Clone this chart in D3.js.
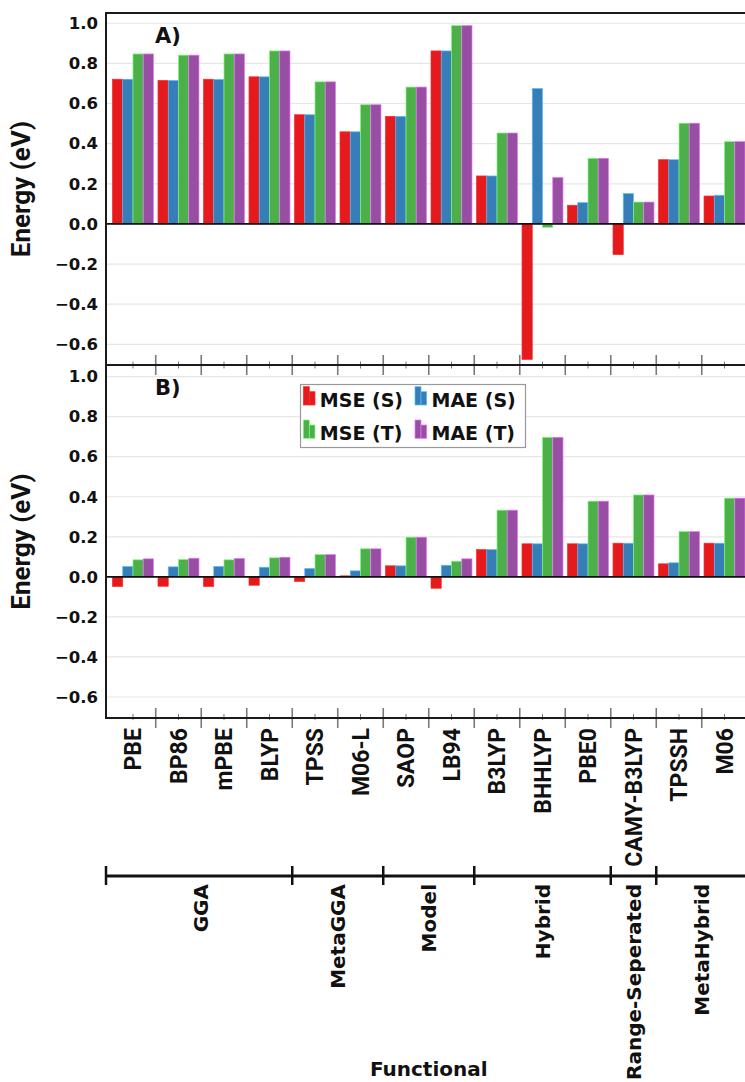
<!DOCTYPE html>
<html><head><meta charset="utf-8">
<script src="https://cdn.jsdelivr.net/npm/d3@7"></script>
<style>body{margin:0;background:#fff;overflow:hidden}</style>
</head><body>
<svg id="chart" width="745" height="1082"></svg>
<script>
// ---------- data ----------
const categories = ["PBE","BP86","mPBE","BLYP","TPSS","M06-L","SAOP","LB94","B3LYP","BHHLYP","PBE0","CAMY-B3LYP","TPSSH","M06"];
const seriesNames = ["MSE (S)","MAE (S)","MSE (T)","MAE (T)"];
const seriesColors = ["#e41a1c","#377eb8","#4daf4a","#984ea3"];
const groupNames = ["GGA","MetaGGA","Model","Hybrid","Range-Seperated","MetaHybrid"];
const groupSizes = [4,2,2,3,1,2];
const yTickValues = [-0.6,-0.4,-0.2,0.0,0.2,0.4,0.6,0.8,1.0];

// Panel A
const mseS_A = [0.721,0.715,0.721,0.733,0.544,0.459,0.536,0.862,0.239,-0.675,0.093,-0.153,0.320,0.139];
const maeS_A = [0.721,0.715,0.720,0.733,0.544,0.459,0.536,0.862,0.239,0.675,0.106,0.151,0.320,0.143];
const mseT_A = [0.847,0.841,0.847,0.862,0.708,0.594,0.682,0.988,0.453,-0.017,0.327,0.109,0.502,0.410];
const maeT_A = [0.847,0.841,0.847,0.862,0.708,0.594,0.682,0.988,0.453,0.231,0.327,0.109,0.502,0.410];
// Panel B
const mseS_B = [-0.048,-0.047,-0.048,-0.042,-0.023,0.005,0.055,-0.057,0.136,0.165,0.165,0.168,0.065,0.168];
const maeS_B = [0.052,0.050,0.052,0.048,0.042,0.030,0.055,0.058,0.136,0.165,0.165,0.168,0.070,0.168];
const mseT_B = [0.085,0.087,0.085,0.095,0.111,0.140,0.198,0.078,0.333,0.697,0.378,0.409,0.226,0.393];
const maeT_B = [0.090,0.093,0.092,0.098,0.111,0.140,0.198,0.090,0.333,0.697,0.378,0.409,0.226,0.393];

// ---------- layout ----------
const svg = d3.select("#chart");
svg.append("rect").attr("width",745).attr("height",1082).attr("fill","#fff");

const left = 106, right = 751.5;
const x = d3.scaleBand().domain(categories).range([left, right]).paddingInner(0).paddingOuter(0.093);
const xs = d3.scaleBand().domain(seriesNames).range([0, x.bandwidth()]).paddingInner(0).paddingOuter(0.22);

const panels = [
  {label:"A)", top:13, bottom:365, domain:[-0.703,1.051], data:[mseS_A,maeS_A,mseT_A,maeT_A]},
  {label:"B)", top:365, bottom:718, domain:[-0.705,1.058], data:[mseS_B,maeS_B,mseT_B,maeT_B]}
];

const tickGray = "#7a7a7a";
const fontMain = "'DejaVu Sans', sans-serif";

panels.forEach((p, pi) => {
  const y = d3.scaleLinear().domain(p.domain).range([p.bottom, p.top]);
  p.y = y;
  const g = svg.append("g");

  // grid
  g.selectAll("line.grid").data(yTickValues).join("line")
    .attr("x1", left).attr("x2", right)
    .attr("y1", d => y(d)).attr("y2", d => y(d))
    .attr("stroke", "#e6e6e6").attr("stroke-width", 1.2);

  // bars
  seriesNames.forEach((s, si) => {
    const vals = p.data[si];
    g.selectAll(null).data(categories.map((c,i)=>({c, v: vals[i]}))).join("rect")
      .attr("x", d => x(d.c) + xs(s))
      .attr("width", xs.bandwidth())
      .attr("y", d => Math.min(y(0), y(d.v)))
      .attr("height", d => Math.abs(y(d.v) - y(0)))
      .attr("fill", seriesColors[si])
      .attr("stroke", d3.color(seriesColors[si]).brighter(1.2).formatHex())
      .attr("stroke-width", 0.7);
  });

  // zero line
  g.append("line").attr("x1", left).attr("x2", right)
    .attr("y1", y(0)).attr("y2", y(0)).attr("stroke", "#111").attr("stroke-width", 1.6);

  // y axis labels
  const ax = g.append("g").attr("transform", `translate(${left},0)`)
    .call(d3.axisLeft(y).tickValues(yTickValues).tickFormat(d3.format(".1f")).tickSize(0).tickPadding(8));
  ax.select(".domain").remove();
  ax.selectAll("text").attr("font-family", fontMain).attr("font-weight", "bold")
    .attr("font-size", "16.5px").attr("fill", "#111");

  // frame
  g.append("rect").attr("x", left).attr("y", p.top).attr("width", right - left).attr("height", p.bottom - p.top)
    .attr("fill", "none").attr("stroke", "#1a1a1a").attr("stroke-width", 2);

  // panel letter
  g.append("text").attr("x", 155).attr("y", p.top + 30).text(p.label)
    .attr("font-family", fontMain).attr("font-weight", "bold").attr("font-size", "21px").attr("fill", "#111");

  // y title
  g.append("text")
    .attr("transform", `translate(30,${(p.top + p.bottom) / 2}) rotate(-90)`)
    .attr("text-anchor", "middle")
    .attr("font-family", "Roboto, sans-serif").attr("font-weight", "bold").attr("font-size", "26px")
    .attr("fill", "#111").text("Energy (eV)");
});

// ---------- x ticks ----------
const boundaries = categories.slice(1).map(c => x(c));
const centers = categories.map(c => x(c) + x.bandwidth() / 2);
function ticks(xsArr, y1, y2, w) {
  svg.append("g").selectAll("line").data(xsArr).join("line")
    .attr("x1", d => d).attr("x2", d => d).attr("y1", y1).attr("y2", y2)
    .attr("stroke", tickGray).attr("stroke-width", w);
}
// between panels
ticks(boundaries, 355, 375, 1.6);
ticks(centers, 361.5, 368.5, 1);
// bottom of panel B
ticks(boundaries, 708, 728, 1.6);
ticks(centers, 714, 720, 1);

// redraw shared border on top of ticks
svg.append("line").attr("x1", left).attr("x2", right).attr("y1", 365).attr("y2", 365).attr("stroke", "#1a1a1a").attr("stroke-width", 2);
svg.append("line").attr("x1", left).attr("x2", right).attr("y1", 718).attr("y2", 718).attr("stroke", "#1a1a1a").attr("stroke-width", 2);

// category labels
svg.append("g").selectAll("text").data(categories).join("text")
  .attr("transform", d => `translate(${x(d) + x.bandwidth() / 2},728) rotate(-90)`)
  .attr("text-anchor", "end").attr("dy", "0.36em")
  .attr("font-family", "Roboto, sans-serif").attr("font-weight", "bold").attr("font-size", "23px")
  .attr("fill", "#111").text(d => d);

// ---------- group axis ----------
const gy = 876;
let idx = 0;
const groups = groupNames.map((n, i) => {
  const first = categories[idx], last = categories[idx + groupSizes[i] - 1];
  const start = i === 0 ? left : x(first);
  const cx = (x(first) + x(last) + x.bandwidth()) / 2;
  idx += groupSizes[i];
  return {n, start, cx};
});
svg.append("line").attr("x1", left).attr("x2", right).attr("y1", gy).attr("y2", gy)
  .attr("stroke", "#111").attr("stroke-width", 3);
svg.append("g").selectAll("line").data(groups).join("line")
  .attr("x1", d => d.start).attr("x2", d => d.start).attr("y1", gy - 10).attr("y2", gy + 9)
  .attr("stroke", "#111").attr("stroke-width", 2.5);
svg.append("g").selectAll("text").data(groups).join("text")
  .attr("transform", d => `translate(${d.cx},${gy + 8}) rotate(-90)`)
  .attr("text-anchor", "end").attr("dy", "0.36em")
  .attr("font-family", fontMain).attr("font-weight", "bold").attr("font-size", "20px")
  .attr("fill", "#111").text(d => d.n);

svg.append("text").attr("x", (left + right) / 2).attr("y", 1076).attr("text-anchor", "middle")
  .attr("font-family", fontMain).attr("font-weight", "bold").attr("font-size", "20px")
  .attr("fill", "#111").text("Functional");

// ---------- legend ----------
const leg = svg.append("g");
leg.append("rect").attr("x", 300.5).attr("y", 384.5).attr("width", 225).attr("height", 63)
  .attr("fill", "#fff").attr("stroke", "#999").attr("stroke-width", 1.2);
const legPos = [[303.3, 386.7], [415, 386.7], [303.3, 420], [415, 420]];
seriesNames.forEach((s, i) => {
  const [lx, ly] = legPos[i];
  const col = seriesColors[i];
  const st = d3.color(col).brighter(1.2).formatHex();
  leg.append("rect").attr("x", lx).attr("y", ly).attr("width", 6).attr("height", 18.3)
    .attr("fill", col).attr("stroke", st).attr("stroke-width", 0.7);
  leg.append("rect").attr("x", lx + 6).attr("y", ly + 5).attr("width", 5.7).attr("height", 13.3)
    .attr("fill", col).attr("stroke", st).attr("stroke-width", 0.7);
  leg.append("text").attr("x", lx + 16.5).attr("y", ly + 20).text(s)
    .attr("font-family", fontMain).attr("font-weight", "bold").attr("font-size", "19px").attr("fill", "#111");
});
</script>
</body></html>
